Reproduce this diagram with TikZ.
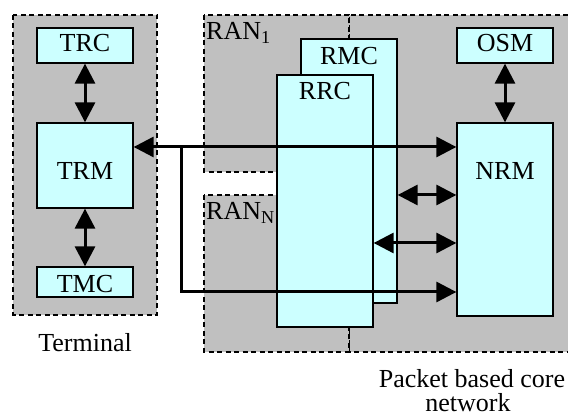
\documentclass[tikz,border=0pt]{standalone}
\usepackage{fontspec}
\setmainfont{Liberation Serif}
\newfontfamily\tnr{Liberation Serif}
\usetikzlibrary{arrows.meta}
\definecolor{boxcyan}{HTML}{CCFFFF}
\definecolor{areagray}{HTML}{C0C0C0}
\tikzset{
  box/.style={draw=black, line width=1.3pt, fill=boxcyan, rectangle, inner sep=0pt},
  area/.style={draw=black, line width=1.2pt, dash pattern=on 5pt off 3.5pt, fill=areagray},
  lbl/.style={anchor=base, inner sep=0pt, font=\tnr\fontsize{26}{28}\selectfont},
  tip/.tip={Triangle[length=20pt,width=20pt]},
  conn/.style={line width=3pt, line join=miter},
  dbl/.style={conn, tip-tip},
  sgl/.style={conn, -tip},
}
\begin{document}
\begin{tikzpicture}[x=1pt,y=-1pt]
\useasboundingbox (0,0) rectangle (568,419);
% areas
\path[area] (13,15) rectangle (157,315);
\fill[areagray] (349,15) rectangle (568,352);
\draw[area, fill=none] (568,15) -- (349,15) -- (349,352) -- (568,352);
\path[area] (204,15) rectangle (349,172);
\path[area] (204,195) rectangle (349,352);
% boxes
\node[box, minimum width=96pt, minimum height=35pt] (trc) at (85,45.5) {};
\node[box, minimum width=96pt, minimum height=85pt] (trm) at (85,165.5) {};
\node[box, minimum width=96pt, minimum height=30pt] (tmc) at (85,282) {};
\node[box, minimum width=96pt, minimum height=264pt] (rmc) at (349,171) {};
\node[box, minimum width=96pt, minimum height=252pt] (rrc) at (325,201) {};
\node[box, minimum width=96pt, minimum height=35pt] (osm) at (505,45.5) {};
\node[box, minimum width=96pt, minimum height=193pt] (nrm) at (505,219.5) {};
% texts
\node[lbl] (ttrc) at (85,52) {TRC};
\node[lbl] (ttrm) at (85,180) {TRM};
\node[lbl] (ttmc) at (85,293) {TMC};
\node[lbl] (trmc) at (349,65) {RMC};
\node[lbl] (trrc) at (325,100) {RRC};
\node[lbl] (tosm) at (505,52) {OSM};
\node[lbl] (tnrm) at (505,180) {NRM};
\node[lbl, anchor=base west] (tran1) at (206,40) {RAN\textsubscript{1}};
\node[lbl, anchor=base west] (trann) at (206,220) {RAN\textsubscript{N}};
\node[lbl] (tterm) at (85,352) {Terminal};
\node[lbl] (tcore1) at (472,388) {Packet based core};
\node[lbl] (tcore2) at (468,412) {network};
% connectors
\coordinate (r1) at (0,147);
\coordinate (r2) at (0,195);
\coordinate (r3) at (0,243);
\coordinate (r4) at (0,292);
\coordinate (br) at (181,147);
\draw[dbl] (trc) -- (trm);
\draw[dbl] (trm) -- (tmc);
\draw[dbl] (osm) -- (nrm);
\draw[dbl] (r1 -| trm.east) -- (r1 -| nrm.west);
\draw[sgl] (br) -- (br |- r4) -- (r4 -| nrm.west);
\draw[dbl] (r2 -| rmc.east) -- (r2 -| nrm.west);
\draw[dbl] (r3 -| rrc.east) -- (r3 -| nrm.west);
\end{tikzpicture}
\end{document}
